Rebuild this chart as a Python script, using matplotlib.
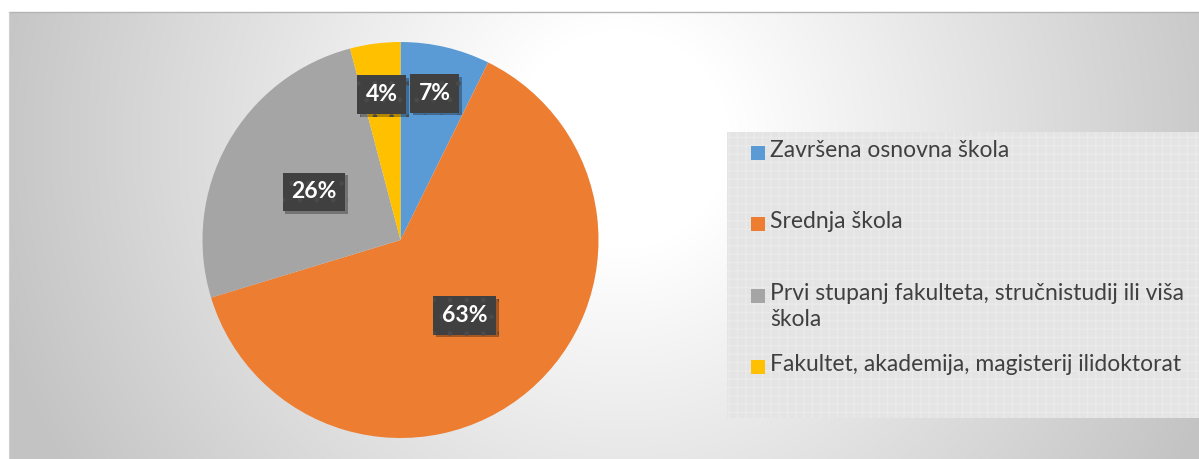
import numpy as np
import matplotlib.pyplot as plt
from matplotlib.patches import Rectangle
import matplotlib.patheffects as pe

# data (shares in percent)
categories = [
    "Završena osnovna škola",
    "Srednja škola",
    "Prvi stupanj fakulteta, stručnistudij ili viša\nškola",
    "Fakultet, akademija, magisterij ilidoktorat",
]
shares = [7.3, 63.0, 25.6, 4.1]
colors = ["#5B9BD5", "#ED7D31", "#A5A5A5", "#FFC000"]

W, H = 1199, 459
fig = plt.figure(figsize=(W / 100, H / 100), dpi=100)
ax = fig.add_axes([0, 0, 1, 1])

# chart area background: soft radial gradient
x0, y0 = 9, 0
x1, y1 = W, H - 12
xs = np.arange(x0, x1)
ys = np.arange(y0, y1)
gx, gy = np.meshgrid(xs, ys)
cx, cy = 620, H - 140
r = np.hypot(gx - cx, gy - cy)
t = np.clip((r - 110) / 540, 0, 1)
shade = 1.0 - t * (60 / 255)
img = np.dstack([shade, shade, shade])
ax.imshow(img, extent=(x0, x1, y0, y1), origin="lower", zorder=0, interpolation="bilinear")
ax.plot([x0, x1], [y1, y1], color="#b4b4b4", lw=1, zorder=1)
ax.plot([x0, x0], [y0, y1], color="#d0d0d0", lw=0.8, zorder=1)

# pie
pcx, pcy, rad = 400.5, H - 240, 198
wedges, _ = ax.pie(shares, colors=colors, startangle=90, counterclock=False,
                   center=(pcx, pcy), radius=rad,
                   wedgeprops=dict(linewidth=0, zorder=2))

label_dist = [0.76, 0.5, 0.5, 0.74]
for w, v, d in zip(wedges, shares, label_dist):
    ang = np.radians((w.theta1 + w.theta2) / 2)
    tx = pcx + d * rad * np.cos(ang)
    ty = pcy + d * rad * np.sin(ang)
    txt = ax.text(tx, ty, f"{v:.0f}%", ha="center", va="center", color="white",
                  fontsize=16.5, fontweight="bold", family=["Lato", "DejaVu Sans"], zorder=5,
                  bbox=dict(boxstyle="square,pad=0.38", facecolor="#404040",
                            edgecolor="#4a4a4a", linewidth=0, hatch="."))
    txt.get_bbox_patch().set_path_effects(
        [pe.withSimplePatchShadow(offset=(2, -2), shadow_rgbFace="black", alpha=0.3), pe.Normal()])

# legend box
lx0, ly0 = 727, H - 418
ax.add_patch(Rectangle((lx0, ly0), W - lx0, 418 - 132, facecolor="#e4e4e4",
                       edgecolor="#eaeaea", linewidth=0, hatch="++", zorder=3))

row_top = 153
row_step = 71.3
for i, (lab, c) in enumerate(zip(categories, colors)):
    yc = H - (row_top + i * row_step)
    ax.add_patch(Rectangle((751, yc - 7), 14, 14, facecolor=c, edgecolor="none", zorder=4))
    ax.text(770, yc + 13, lab, ha="left", va="top", fontsize=16.5, color="#404040",
            family=["Lato", "DejaVu Sans"], linespacing=1.34, zorder=4)

ax.set_xlim(0, W)
ax.set_ylim(0, H)
ax.set_aspect("auto")
ax.axis("off")

fig.savefig("out.png", dpi=100, facecolor="white")
